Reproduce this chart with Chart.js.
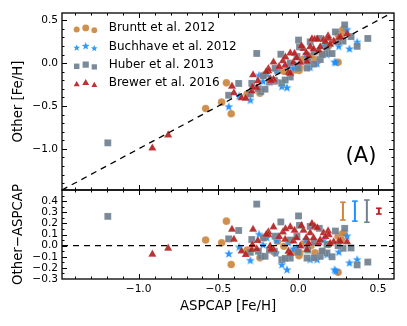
<!DOCTYPE html>
<html><head><meta charset="utf-8">
<script src="https://cdn.jsdelivr.net/npm/chart.js@4.4.1/dist/chart.umd.min.js"></script>
<style>
html,body{margin:0;padding:0;background:#fff;}
#wrap{position:relative;width:407px;height:326px;overflow:hidden;background:#fff;}
#c1{position:absolute;left:0;top:0;}
#c2{position:absolute;left:0;top:175px;}
</style></head><body>
<div id="wrap"><canvas id="c1" width="407" height="205"></canvas><canvas id="c2" width="407" height="151"></canvas></div>
<script>
// ---------- data ----------
const xTicks = [-1.0, -0.5, 0.0, 0.5];
const yTicksTop = [-1.0, -0.5, 0.0, 0.5];
const yTicksBottom = [-0.3, -0.2, -0.1, 0.0, 0.1, 0.2, 0.3, 0.4];
const seriesNames = ['Bruntt et al. 2012', 'Buchhave et al. 2012', 'Huber et al. 2013', 'Brewer et al. 2016'];
const seriesColors = ['rgb(205,133,63)', 'rgb(30,144,255)', 'rgb(112,128,144)', 'rgb(178,34,34)'];

const brunttAspcap = [-0.58, -0.45, -0.48, -0.42, -0.32, -0.24, -0.21, -0.09, 0.03, -0.145, 0.01, 0.105, 0.19, 0.25, 0.25, 0.275, 0.285, 0.27, -0.05, 0.08, -0.13, 0.005, -0.02, 0.15];
const brunttOther  = [-0.53, -0.23, -0.455, -0.59, -0.36, -0.35, -0.135, -0.095, 0.045, -0.21, -0.055, 0.04, 0.20, 0.335, 0.01, 0.38, 0.40, 0.32, -0.12, 0.08, -0.09, -0.085, -0.08, 0.10];

const buchhaveAspcap = [-0.435, -0.37, -0.30, -0.245, -0.22, -0.197, -0.14, -0.135, -0.103, -0.07, -0.061, -0.008, 0.075, 0.118, 0.159, 0.18, 0.228, 0.235, 0.254, 0.306, 0.321, 0.369, 0.05, -0.03];
const buchhaveOther  = [-0.51, -0.385, -0.435, -0.145, -0.215, -0.127, -0.21, -0.09, -0.276, -0.288, -0.036, -0.029, -0.052, -0.009, 0.206, 0.098, 0.01, 0.005, 0.194, 0.39, 0.164, 0.242, 0.10, -0.06];

const huberAspcap = [-1.193, -0.26, -0.373, -0.436, -0.291, -0.235, -0.218, 0.002, -0.109, 0.008, 0.132, -0.145, -0.008, 0.18, -0.208, -0.103, -0.05, 0.055, 0.138, 0.291, 0.233, 0.331, 0.18, 0.369, 0.436, 0.075, -0.082, 0.212, 0.281, -0.30, -0.05, 0.10, 0.25, -0.15, 0.0, -0.18, 0.06, 0.15, -0.25, 0.10];
const huberOther  = [-0.93, 0.113, -0.237, -0.375, -0.236, -0.331, -0.148, 0.269, 0.104, 0.19, 0.287, -0.06, 0.077, 0.19, -0.304, -0.23, -0.162, -0.057, 0.042, 0.446, 0.364, 0.31, 0.114, 0.196, 0.288, 0.248, -0.197, 0.112, 0.257, -0.36, 0.0, 0.13, 0.25, -0.2, -0.06, -0.22, 0.02, 0.10, -0.30, -0.01];

const brewerAspcap = [-0.914, -0.815, -0.415, -0.403, -0.355, -0.329, -0.283, -0.253, -0.291, -0.26, 0.086, -0.155, -0.05, -0.187, -0.096, -0.023, 0.033, 0.075, 0.159, 0.096, -0.082, -0.03, 0.128, -0.176, -0.155, -0.061, 0.055, 0.013, 0.187, 0.254, 0.306, 0.222, -0.187, 0.103, 0.191, -0.05, -0.287, -0.17, 0.138, 0.065, 0.264, -0.12, 0.02, 0.12, 0.17, -0.20, 0.05, -0.01, 0.20, -0.08];
const brewerOther  = [-0.992, -0.839, -0.27, -0.348, -0.405, -0.411, -0.138, -0.208, -0.327, -0.29, 0.283, 0.012, 0.117, -0.065, 0.026, 0.113, 0.169, 0.19, 0.274, 0.166, -0.027, 0.01, 0.153, -0.181, -0.191, -0.112, 0.019, 0.008, 0.318, 0.294, 0.34, 0.256, -0.09, 0.276, 0.288, -0.12, -0.281, -0.203, 0.19, 0.086, 0.302, -0.04, 0.20, 0.28, 0.25, -0.10, 0.12, 0.06, 0.22, 0.07];

// typical uncertainties (error bars, bottom panel)
const errX = [0.28, 0.355, 0.43, 0.505];
const errCenter = [0.31, 0.31, 0.31, 0.31];
const errHalf = [0.08, 0.09, 0.10, 0.026];

const X_MIN = -1.48, X_MAX = 0.6;
const Y_TOP_MIN = -1.48, Y_TOP_MAX = 0.585;
const Y_BOT_MIN = -0.3, Y_BOT_MAX = 0.5;

// ---------- helpers ----------
const FONT = 'DejaVu Sans';
const fmt = v => (Math.abs(v) < 1e-9 ? '0.0' : v.toFixed(1)).replace('-', '\u2212');
function starPath(g, cx, cy, R, r) {
  g.beginPath();
  for (let i = 0; i < 10; i++) {
    const a = -Math.PI / 2 + i * Math.PI / 5;
    const rr = i % 2 === 0 ? R : r;
    const px = cx + rr * Math.cos(a), py = cy + rr * Math.sin(a);
    if (i === 0) g.moveTo(px, py); else g.lineTo(px, py);
  }
  g.closePath();
}
function makeStar(R, color) {
  const s = Math.ceil(R * 2 + 2);
  const c = document.createElement('canvas');
  c.width = s; c.height = s;
  const g = c.getContext('2d');
  starPath(g, s / 2, s / 2, R, R * 0.42);
  g.fillStyle = color; g.fill();
  return c;
}
const starImg = makeStar(4.7, 'rgba(30,144,255,0.95)');
const pts = (xs, ys) => xs.map((x, i) => ({ x, y: ys[i] }));
const diff = (xs, ys) => xs.map((x, i) => ({ x, y: ys[i] - x }));
const alpha = (c, a) => c.replace('rgb(', 'rgba(').replace(')', ',' + a + ')');

const markerDefs = [
  { style: 'circle', radius: 3.8 },
  { style: starImg, radius: 4.7 },
  { style: 'rect', radius: 4.9 },
  { style: 'triangle', radius: 4.7 }
];
const seriesX = [brunttAspcap, buchhaveAspcap, huberAspcap, brewerAspcap];
const seriesY = [brunttOther, buchhaveOther, huberOther, brewerOther];

function scatterSets(useDiff) {
  return seriesX.map((xs, i) => ({
    label: seriesNames[i],
    data: useDiff ? diff(xs, seriesY[i]) : pts(xs, seriesY[i]),
    pointStyle: markerDefs[i].style,
    pointRadius: markerDefs[i].radius,
    backgroundColor: alpha(seriesColors[i], 0.92),
    borderColor: 'rgba(255,255,255,0.35)',
    borderWidth: 0.4,
    order: 10 - i
  }));
}

function drawFrameTicks(chart, yMaj, yMin, xMaj, xMin) {
  const { ctx, chartArea: a, scales } = chart;
  const xs = scales.x, ys = scales.y;
  const L = a.left, R = a.right, T = a.top, B = a.bottom;
  ctx.save();
  ctx.strokeStyle = '#000';
  ctx.lineWidth = 1;
  ctx.beginPath();
  const vx = (vals, len) => vals.forEach(v => {
    const p = Math.round(xs.getPixelForValue(v)) + 0.5;
    if (p > L + 1 && p < R - 1) { ctx.moveTo(p, B); ctx.lineTo(p, B - len); ctx.moveTo(p, T); ctx.lineTo(p, T + len); }
  });
  const vy = (vals, len) => vals.forEach(v => {
    const p = Math.round(ys.getPixelForValue(v)) + 0.5;
    if (p > T + 1 && p < B - 1) { ctx.moveTo(L, p); ctx.lineTo(L + len, p); ctx.moveTo(R, p); ctx.lineTo(R - len, p); }
  });
  vx(xMaj, 5); vx(xMin, 2.5); vy(yMaj, 5); vy(yMin, 2.5);
  ctx.stroke();
  ctx.lineWidth = 1.3;
  ctx.strokeRect(L, T, R - L, B - T);
  ctx.restore();
}

const xMinor = [];
for (let k = -14; k <= 6; k++) if (k % 5 !== 0) xMinor.push(k / 10);
const yTopMinor = [];
for (let k = -14; k <= 5; k++) if (k % 5 !== 0) yTopMinor.push(k / 10);
const yBotMinor = [];
for (let k = -5; k <= 9; k += 2) yBotMinor.push(k / 20);

const tickFont = { family: FONT, size: 10.6 };
const titleFont = { family: FONT, size: 13.3 };

function yScale(min, max, ticks, title) {
  return {
    type: 'linear', min, max,
    afterBuildTicks: s => { s.ticks = ticks.map(v => ({ value: v })); },
    afterFit: s => { s.width = 62; },
    ticks: { callback: v => fmt(v), font: tickFont, color: '#000', padding: 4, autoSkip: false },
    grid: { display: false, drawTicks: false },
    border: { display: false },
    title: { display: true, text: title, font: titleFont, color: '#000', padding: { top: 11, bottom: 0 } }
  };
}

// ---------- top panel ----------
const topPlugin = {
  id: 'topDeco',
  afterDraw(chart) {
    drawFrameTicks(chart, yTicksTop, yTopMinor, xTicks, xMinor);
    const ctx = chart.ctx;
    ctx.save();
    // legend
    const rows = [28.3, 46.6, 65, 83.3];
    const mx = [76.7, 85.7, 94.3];
    const dy = [1.3, -0.4, 1.9];
    const sc = [0.88, 1.0, 0.85];
    rows.forEach((ry, i) => {
      ctx.fillStyle = alpha(seriesColors[i], 0.92);
      mx.forEach((x, j) => {
        const y = ry + dy[j];
        const s = sc[j];
        ctx.beginPath();
        if (i === 0) { ctx.arc(x, y, 3.4 * s, 0, Math.PI * 2); ctx.fill(); }
        else if (i === 1) { starPath(ctx, x, y, 4.1 * s, 4.1 * s * 0.42); ctx.fill(); }
        else if (i === 2) { const h = 3.1 * s; ctx.fillRect(x - h, y - h, 2 * h, 2 * h); }
        else { const r = 4.0 * s; for (let k = 0; k < 3; k++) { const ang = k * 2 * Math.PI / 3; const px = x + Math.sin(ang) * r, py = y - Math.cos(ang) * r; if (k === 0) ctx.moveTo(px, py); else ctx.lineTo(px, py); } ctx.closePath(); ctx.fill(); }
      });
      ctx.fillStyle = '#000';
      ctx.font = '12px "' + FONT + '"';
      ctx.textBaseline = 'middle';
      ctx.textAlign = 'left';
      ctx.fillText(seriesNames[i], 108.7, ry);
    });
    ctx.font = '21px "' + FONT + '"';
    ctx.textAlign = 'center';
    ctx.fillText('(A)', 361, 157);
    ctx.restore();
  }
};

new Chart(document.getElementById('c1'), {
  type: 'scatter',
  data: {
    datasets: [
      ...scatterSets(false),
      { type: 'line', data: [{ x: X_MIN, y: X_MIN }, { x: X_MAX, y: X_MAX }], borderColor: '#000', borderWidth: 1.3, borderDash: [6, 5], pointRadius: 0, showLine: true, fill: false, order: -1 }
    ]
  },
  options: {
    responsive: false, animation: false, events: [],
    layout: { padding: { left: 0, right: 13, top: 13, bottom: 15 } },
    plugins: { legend: { display: false }, tooltip: { enabled: false } },
    scales: {
      x: { type: 'linear', min: X_MIN, max: X_MAX, display: false },
      y: yScale(Y_TOP_MIN, Y_TOP_MAX, yTicksTop, 'Other [Fe/H]')
    }
  },
  plugins: [topPlugin]
});

// ---------- bottom panel ----------
const botPlugin = {
  id: 'botDeco',
  afterDraw(chart) { drawFrameTicks(chart, yTicksBottom, yBotMinor, xTicks, xMinor); }
};

const errSets = errX.map((x, i) => ({
  type: 'line',
  data: [{ x, y: errCenter[i] - errHalf[i] }, { x, y: errCenter[i] + errHalf[i] }],
  borderColor: seriesColors[i], borderWidth: 2,
  pointStyle: 'line', pointRadius: 2.8, pointBorderColor: seriesColors[i], pointBorderWidth: 1.6,
  showLine: true, fill: false, order: -2
}));

new Chart(document.getElementById('c2'), {
  type: 'scatter',
  data: {
    datasets: [
      ...scatterSets(true),
      { type: 'line', data: [{ x: X_MIN, y: 0 }, { x: X_MAX, y: 0 }], borderColor: '#000', borderWidth: 1.3, borderDash: [6, 5], pointRadius: 0, showLine: true, fill: false, order: -1 },
      ...errSets
    ]
  },
  options: {
    responsive: false, animation: false, events: [],
    layout: { padding: { left: 0, right: 13, top: 15, bottom: 0 } },
    plugins: { legend: { display: false }, tooltip: { enabled: false } },
    scales: {
      x: {
        type: 'linear', min: X_MIN, max: X_MAX,
        afterBuildTicks: s => { s.ticks = xTicks.map(v => ({ value: v })); },
        afterFit: s => { s.height = 47; },
        ticks: { callback: v => fmt(v), font: tickFont, color: '#000', padding: 4, autoSkip: false, maxRotation: 0 },
        grid: { display: false, drawTicks: false },
        border: { display: false },
        title: { display: true, text: 'ASPCAP [Fe/H]', font: titleFont, color: '#000', padding: { top: 0, bottom: 11 } }
      },
      y: yScale(Y_BOT_MIN, Y_BOT_MAX, yTicksBottom, 'Other\u2212ASPCAP')
    }
  },
  plugins: [botPlugin]
});
</script></body></html>
